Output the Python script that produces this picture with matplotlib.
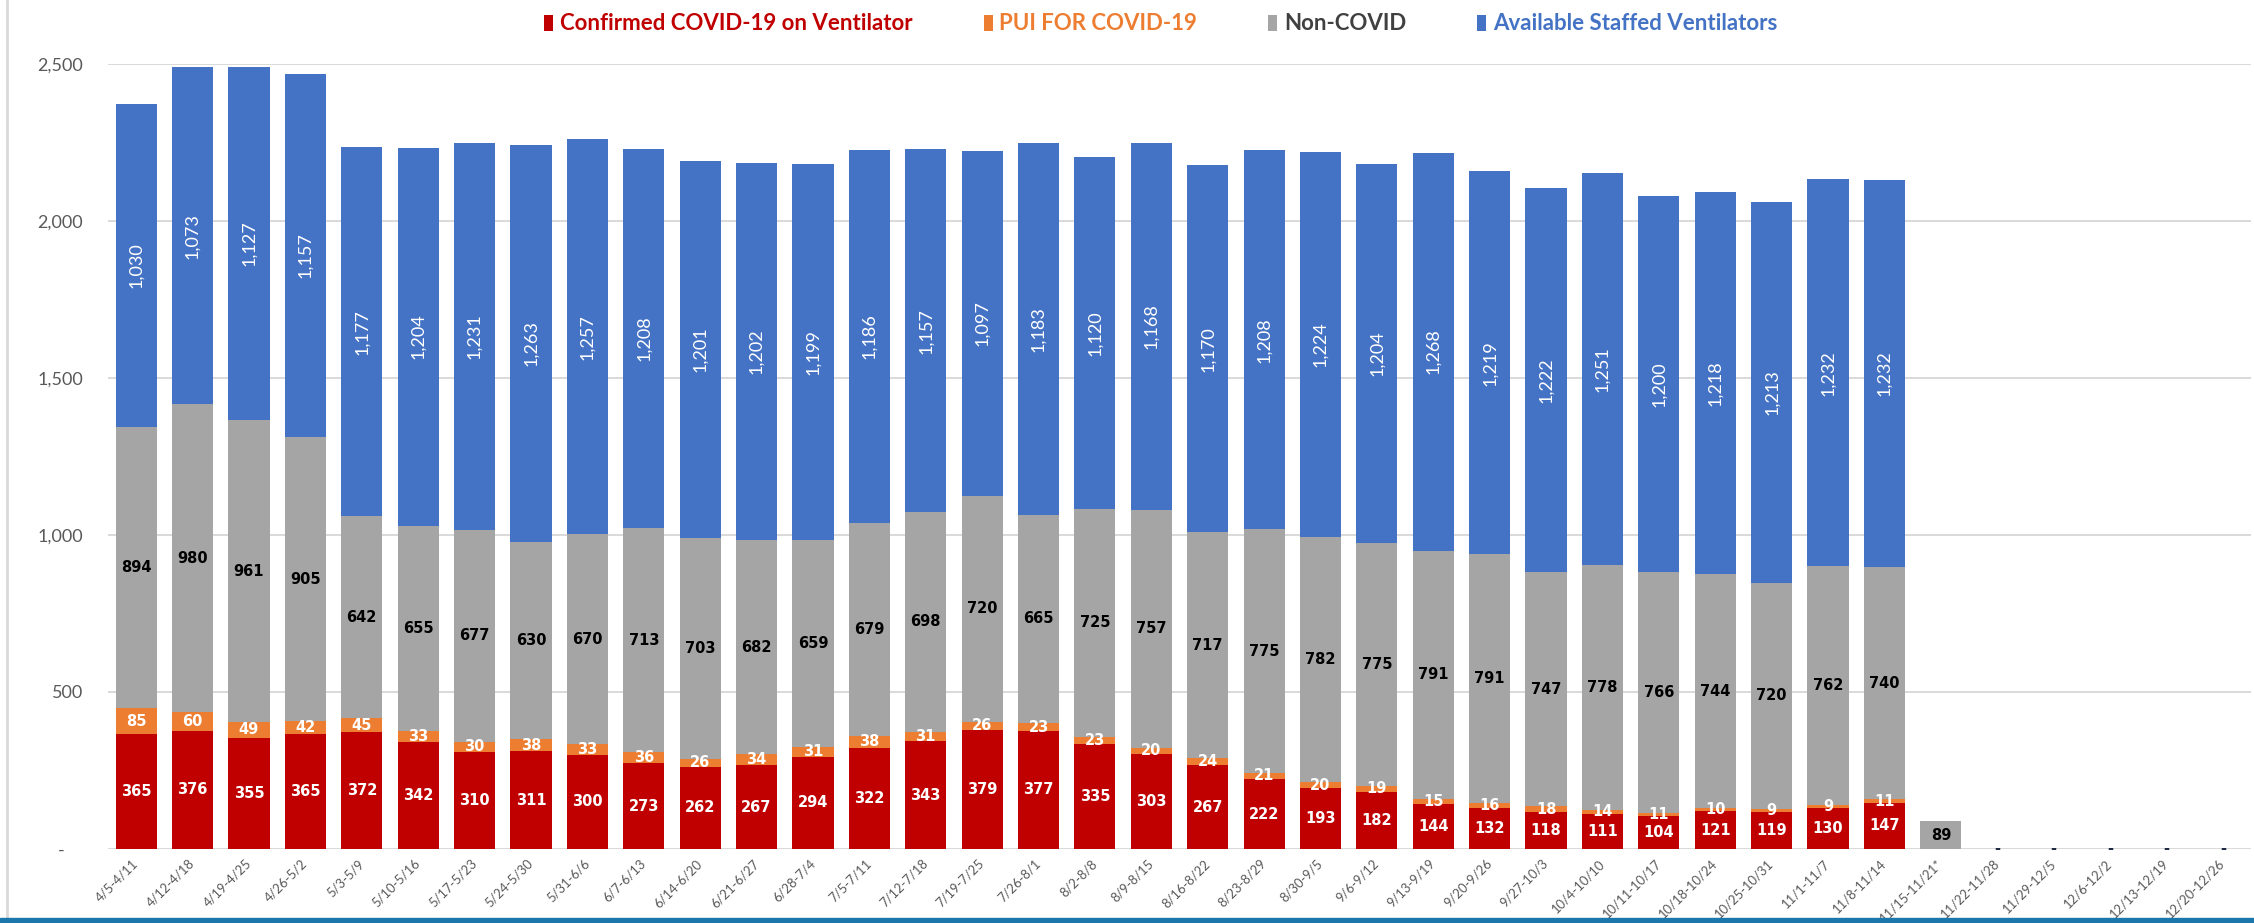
import numpy as np
import matplotlib.pyplot as plt
from matplotlib.lines import Line2D
from matplotlib.patches import Rectangle

# Weekly ventilator data
weeks = ['4/5-4/11', '4/12-4/18', '4/19-4/25', '4/26-5/2', '5/3-5/9', '5/10-5/16',
         '5/17-5/23', '5/24-5/30', '5/31-6/6', '6/7-6/13', '6/14-6/20', '6/21-6/27',
         '6/28-7/4', '7/5-7/11', '7/12-7/18', '7/19-7/25', '7/26-8/1', '8/2-8/8',
         '8/9-8/15', '8/16-8/22', '8/23-8/29', '8/30-9/5', '9/6-9/12', '9/13-9/19',
         '9/20-9/26', '9/27-10/3', '10/4-10/10', '10/11-10/17', '10/18-10/24',
         '10/25-10/31', '11/1-11/7', '11/8-11/14', '11/15-11/21*', '11/22-11/28',
         '11/29-12/5', '12/6-12/2', '12/13-12/19', '12/20-12/26']

confirmed = [365, 376, 355, 365, 372, 342, 310, 311, 300, 273, 262, 267, 294, 322, 343, 379,
             377, 335, 303, 267, 222, 193, 182, 144, 132, 118, 111, 104, 121, 119, 130, 147,
             0, 0, 0, 0, 0, 0]
pui = [85, 60, 49, 42, 45, 33, 30, 38, 33, 36, 26, 34, 31, 38, 31, 26,
       23, 23, 20, 24, 21, 20, 19, 15, 16, 18, 14, 11, 10, 9, 9, 11,
       0, 0, 0, 0, 0, 0]
non_covid = [894, 980, 961, 905, 642, 655, 677, 630, 670, 713, 703, 682, 659, 679, 698, 720,
             665, 725, 757, 717, 775, 782, 775, 791, 791, 747, 778, 766, 744, 720, 762, 740,
             89, 0, 0, 0, 0, 0]
available = [1030, 1073, 1127, 1157, 1177, 1204, 1231, 1263, 1257, 1208, 1201, 1202, 1199, 1186,
             1157, 1097, 1183, 1120, 1168, 1170, 1208, 1224, 1204, 1268, 1219, 1222, 1251, 1200,
             1218, 1213, 1232, 1232, 0, 0, 0, 0, 0, 0]

RED = '#C00000'
ORANGE = '#ED7D31'
GRAY = '#A5A5A5'
BLUE = '#4472C4'
TICK_COLOR = '#595959'
CAL = ['Lato', 'DejaVu Sans']  # closest to Calibri

W, H = 2254, 923
fig = plt.figure(figsize=(W / 100, H / 100), dpi=100)
ax = fig.add_axes([108 / W, (H - 849) / H, (2251 - 108) / W, (849 - 64) / H])

x = np.arange(len(weeks))
bottom = np.zeros(len(weeks))

# name, values, bar colour, label colour
series = [
    ('Confirmed COVID-19 on Ventilator', confirmed, RED, 'white'),
    ('PUI FOR COVID-19', pui, ORANGE, 'white'),
    ('Non-COVID', non_covid, GRAY, 'black'),
    ('Available Staffed Ventilators', available, BLUE, 'white'),
]

for name, vals, color, txt_color in series:
    vals = np.array(vals, dtype=float)
    ax.bar(x, vals, 0.73, bottom=bottom, color=color, label=name, zorder=2)
    for xi, b, v in zip(x, bottom, vals):
        if v == 0:
            # Excel shows zero as a dash
            if name == 'Non-COVID':
                ax.text(xi, 0, '-', ha='center', va='center', color='#1F2A44',
                        fontsize=10.5, fontweight='bold', zorder=3)
            continue
        if name == 'Available Staffed Ventilators':
            ax.text(xi, b + v / 2, f'{int(v):,}', ha='center', va='center', rotation=90,
                    color=txt_color, fontsize=13, family=CAL, zorder=3)
        else:
            ax.text(xi, b + v / 2, f'{int(v):,}', ha='center', va='center',
                    color=txt_color, fontsize=10.5, fontweight='bold', zorder=3)
    bottom += vals

# axes styling
ax.set_xlim(-0.5, len(weeks) - 0.5)
ax.set_ylim(0, 2500)
ax.set_yticks(np.arange(0, 2501, 500))
ax.yaxis.set_major_formatter(plt.FuncFormatter(lambda v, _: '-    ' if v == 0 else f'{int(v):,}'))
ax.tick_params(axis='y', length=0, pad=18, labelsize=13, labelcolor=TICK_COLOR)
for lbl in ax.get_yticklabels():
    lbl.set_family(CAL)
ax.set_xticks(x)
ax.set_xticklabels(weeks, rotation=45, ha='right', va='center', rotation_mode='anchor',
                   family=CAL)
ax.tick_params(axis='x', length=0, pad=9, labelsize=9.4, labelcolor=TICK_COLOR)
for s in ax.spines.values():
    s.set_visible(False)
ax.set_axisbelow(True)
ax.yaxis.grid(True, color='#D9D9D9', linewidth=1.4)

# legend on top
ax.legend(loc='center', bbox_to_anchor=(0.515, 0.974), bbox_transform=fig.transFigure,
          ncol=4, frameon=False, handlelength=0.4, handleheight=0.75, handletextpad=0.3,
          columnspacing=3.2,
          prop=dict(family=CAL, weight='bold', size=16),
          labelcolor=[RED, ORANGE, '#404040', BLUE])

# thin frame line on the left and the blue band at the bottom
fig.add_artist(Line2D([7 / W, 7 / W], [5 / H, 1], transform=fig.transFigure,
                      color='#D9D9D9', linewidth=2))
fig.add_artist(Rectangle((0, 0), 1, 5 / H, transform=fig.transFigure,
                         color='#1B77AC', zorder=10))

fig.savefig('out.png', dpi=100)
